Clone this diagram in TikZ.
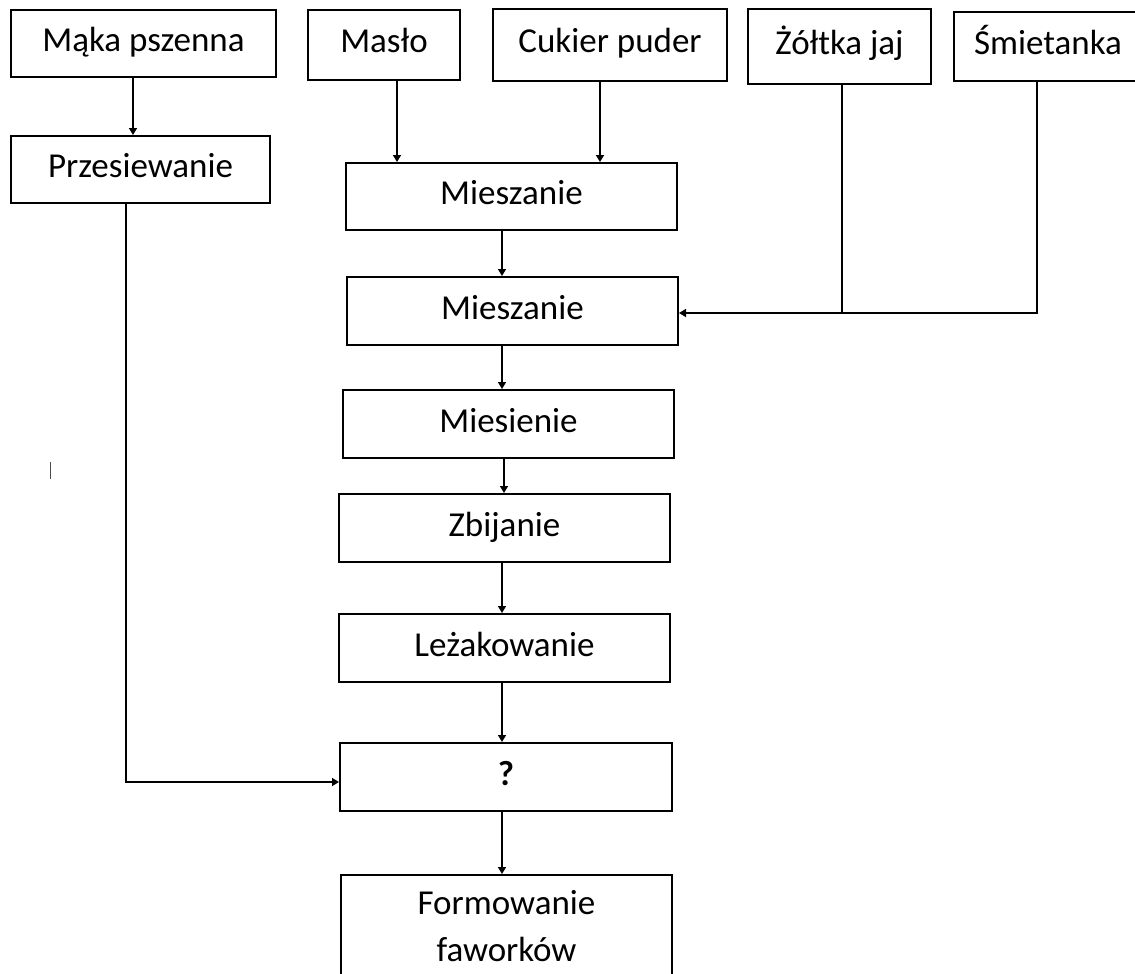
\documentclass[tikz,border=0pt]{standalone}
\usepackage{fontspec}
\setmainfont{Carlito}
\usetikzlibrary{arrows.meta,calc}
\begin{document}
\begin{tikzpicture}[x=1pt,y=-1pt,
  box/.style={draw=black,line width=2pt,rectangle,inner sep=0pt,
    font=\fontsize{35}{47}\selectfont,text height=26pt,text depth=10pt},
  conn/.style={draw=black,line width=1.5pt},
  arr/.style={conn,-{Triangle[length=7pt,width=8pt]}}]
\useasboundingbox (0,0) rectangle (1135,974);
\clip (0,0) rectangle (1135,974);
% top row
\node[box,minimum width=265pt,minimum height=67pt] (maka) at (143.5,43.5) {Mąka pszenna};
\node[box,minimum width=152pt,minimum height=70pt] (maslo) at (384,45) {Masło};
\node[box,minimum width=234pt,minimum height=72pt] (cukier) at (610,45) {Cukier puder};
\node[box,minimum width=183pt,minimum height=75pt] (zoltka) at (839.5,46.5) {Żółtka jaj};
\node[box,minimum width=188pt,minimum height=69pt] (smiet) at (1048,46.5) {Śmietanka};
% left column
\node[box,minimum width=259pt,minimum height=67pt] (przes) at (140.5,169.5) {Przesiewanie};
% middle column
\node[box,minimum width=331pt,minimum height=67pt] (mies1) at (511.5,196.5) {Mieszanie};
\node[box,minimum width=331pt,minimum height=68pt] (mies2) at (512.5,311) {Mieszanie};
\node[box,minimum width=331pt,minimum height=68pt] (miesien) at (508.5,424) {Miesienie};
\node[box,minimum width=331pt,minimum height=68pt] (zbij) at (504.5,528) {Zbijanie};
\node[box,minimum width=331pt,minimum height=68pt] (lezak) at (504.5,648) {Leżakowanie};
\node[box,minimum width=332pt,minimum height=68pt] (q) at (506,777) {\textbf{?}};
\node[box,minimum width=331pt,anchor=north,align=center,inner ysep=14pt,
  text height=72pt,text depth=5pt] (form) at (506.5,874) {Formowanie\\faworków};
% x / y guides
\coordinate (xmaka) at (133,0);
\coordinate (xmaslo) at (397,0);
\coordinate (xcuk) at (600,0);
\coordinate (xzol) at (842,0);
\coordinate (xsmi) at (1037,0);
\coordinate (xmid) at (502,0);
\coordinate (xmid2) at (504,0);
\coordinate (xprz) at (126,0);
\coordinate (yj) at (0,313);
\coordinate (yq) at (0,782);
% connectors
\draw[arr] (maka.south -| xmaka) -- (przes.north -| xmaka);
\draw[arr] (maslo.south -| xmaslo) -- (mies1.north -| xmaslo);
\draw[arr] (cukier.south -| xcuk) -- (mies1.north -| xcuk);
\draw[arr] (mies1.south -| xmid) -- (mies2.north -| xmid);
\draw[conn] (zoltka.south -| xzol) -- (xzol |- yj);
\draw[arr] (smiet.south -| xsmi) |- (mies2.east |- yj);
\draw[arr] (mies2.south -| xmid) -- (miesien.north -| xmid);
\draw[arr] (miesien.south -| xmid2) -- (zbij.north -| xmid2);
\draw[arr] (zbij.south -| xmid) -- (lezak.north -| xmid);
\draw[arr] (lezak.south -| xmid) -- (q.north -| xmid);
\draw[arr] (przes.south -| xprz) |- (q.west |- yq);
\draw[arr] (q.south -| xmid) -- (form.north -| xmid);
% stray mark
\draw[line width=1.5pt,black!70] (50.5,462) -- (50.5,479);
\end{tikzpicture}
\end{document}
